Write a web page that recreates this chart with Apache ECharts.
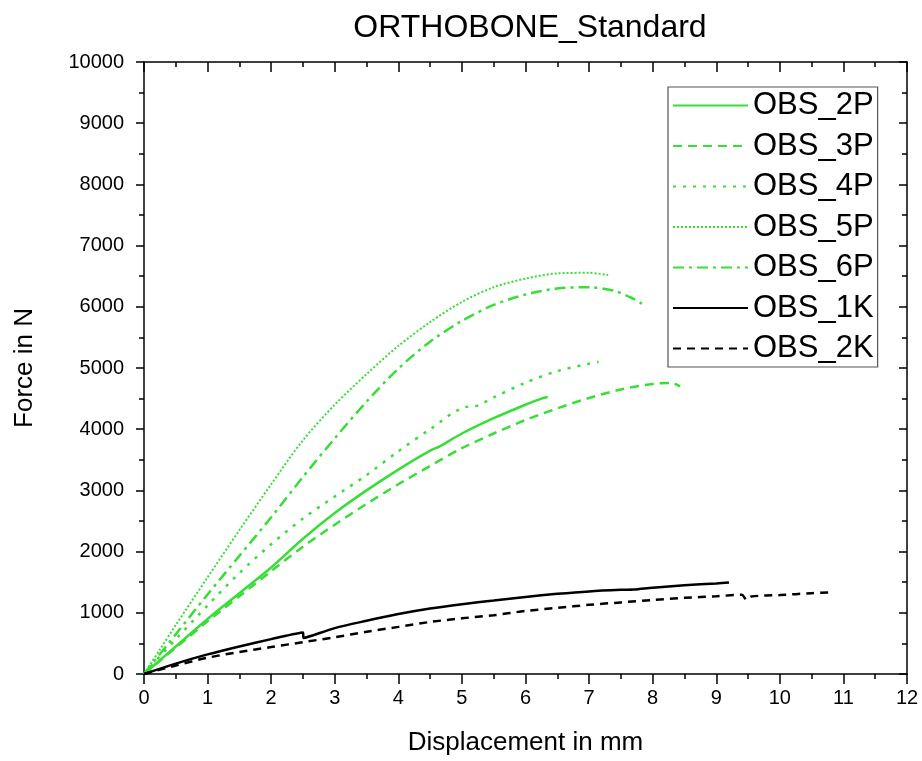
<!DOCTYPE html>
<html>
<head>
<meta charset="utf-8">
<script src="https://cdn.jsdelivr.net/npm/echarts@6/dist/echarts.min.js"></script>
<style>
  html, body { margin: 0; padding: 0; background: #fff; }
  #chart { width: 922px; height: 761px; }
</style>
</head>
<body>
<div id="chart"></div>
<script>
// displacement (mm), force (N) pairs
const obs2P = [[0,0],[0.5,450],[1,900],[1.5,1320],[2,1740],[2.5,2210],[3,2630],[3.5,3000],[4,3340],[4.5,3650],[4.65,3720],[5,3930],[5.5,4180],[6,4400],[6.25,4500],[6.35,4525]]
const obs3P = [[0,0],[0.5,430],[1,860],[1.5,1270],[2,1680],[2.5,2080],[3,2440],[3.5,2780],[4,3100],[4.5,3400],[5,3690],[5.5,3930],[6,4150],[6.5,4340],[7,4510],[7.5,4650],[8,4740],[8.3,4755],[8.43,4700]]
const obs4P = [[0,0],[0.5,570],[1,1120],[1.5,1650],[2,2120],[2.5,2540],[3,2900],[3.5,3250],[4,3640],[4.5,4000],[5.05,4360],[5.2,4370],[5.5,4520],[6,4760],[6.5,4950],[7,5070],[7.15,5100]]
const obs5P = [[0,0],[0.25,400],[0.5,800],[1,1580],[1.5,2350],[2,3100],[2.5,3820],[3,4400],[3.5,4900],[4,5360],[4.5,5750],[5,6080],[5.5,6320],[6,6460],[6.5,6545],[7,6555],[7.3,6520]]
const obs6P = [[0,0],[0.5,650],[1,1300],[1.5,1930],[2,2560],[2.5,3220],[3,3850],[3.5,4450],[4,4990],[4.5,5430],[5,5770],[5.5,6030],[6,6200],[6.5,6300],[7,6320],[7.4,6260],[7.7,6130],[7.83,6050]]
const obs1K = [[0,0],[0.5,170],[1,320],[1.5,450],[2,570],[2.5,680],[2.51,590],[3,750],[3.5,870],[4,980],[4.5,1070],[5,1140],[5.5,1200],[6,1260],[6.5,1310],[7,1350],[7.5,1375],[7.7,1380],[8,1410],[8.5,1450],[9,1480],[9.2,1495]]
const obs2K = [[0,0],[0.5,140],[1,266],[1.5,360],[2,440],[2.5,520],[3,600],[3.5,690],[4,770],[4.5,850],[5,910],[5.5,960],[6,1030],[6.5,1080],[7,1130],[7.5,1170],[8,1210],[8.5,1245],[9,1270],[9.4,1295],[9.48,1210],[9.55,1265],[10,1290],[10.5,1320],[10.76,1333]]

const seriesNames = ['OBS_2P', 'OBS_3P', 'OBS_4P', 'OBS_5P', 'OBS_6P', 'OBS_1K', 'OBS_2K']
const seriesData = [obs2P, obs3P, obs4P, obs5P, obs6P, obs1K, obs2K]

const green = '#38de38'
const styles = [
  {color: green, width: 2.5, type: 'solid'},
  {color: green, width: 2.5, type: [9, 6]},
  {color: green, width: 2.5, type: [3, 7]},
  {color: green, width: 2, type: [2, 2]},
  {color: green, width: 2.5, type: [11, 5, 3, 5]},
  {color: '#000', width: 2.5, type: 'solid'},
  {color: '#000', width: 2.5, type: [8, 6]}
]

const font = 'Arial, "Liberation Sans", sans-serif'
const chart = echarts.init(document.getElementById('chart'))

const baseAxis = {
  type: 'value',
  axisLine: {show: true, onZero: false, lineStyle: {color: '#000', width: 1.5}},
  splitLine: {show: false},
  minorTick: {show: true, splitNumber: 2, length: 5, lineStyle: {color: '#000', width: 1.5}}
}

chart.setOption({
  animation: false,
  backgroundColor: '#fff',
  textStyle: {fontFamily: font},
  title: {
    text: 'ORTHOBONE_Standard',
    left: 525,
    textAlign: 'center',
    top: 7,
    textStyle: {fontFamily: font, fontSize: 32, fontWeight: 'normal', color: '#000'}
  },
  legend: {
    orient: 'vertical',
    left: 668,
    top: 87,
    padding: [3, 4, 3, 4],
    itemWidth: 75,
    itemHeight: 31,
    itemGap: 9.5,
    borderColor: '#555',
    borderWidth: 1.2,
    data: seriesNames,
    itemStyle: {opacity: 0},
    textStyle: {fontFamily: font, fontSize: 31, color: '#000', lineHeight: 31}
  },
  grid: {left: 144, right: 15, top: 62, bottom: 84},
  xAxis: [
    Object.assign({}, baseAxis, {
      position: 'bottom', min: 0, max: 12, interval: 1,
      axisTick: {show: true, length: 10, lineStyle: {color: '#000', width: 1.5}},
      axisLabel: {fontSize: 20, color: '#000', margin: 14, fontFamily: font},
      name: 'Displacement in mm', nameLocation: 'middle', nameGap: 56,
      nameTextStyle: {fontSize: 26, color: '#000', fontFamily: font}
    }),
    Object.assign({}, baseAxis, {
      position: 'top', min: 0, max: 12, interval: 1,
      axisTick: {show: true, inside: true, length: 10, lineStyle: {color: '#000', width: 1.5}},
      axisLabel: {show: false}
    })
  ],
  yAxis: [
    Object.assign({}, baseAxis, {
      position: 'left', min: 0, max: 10000, interval: 1000,
      axisTick: {show: true, length: 8, lineStyle: {color: '#000', width: 1.5}},
      axisLabel: {fontSize: 20, color: '#000', margin: 20, fontFamily: font, formatter: v => String(v)},
      name: 'Force in N', nameLocation: 'middle', nameGap: 106, nameRotate: 90,
      nameTextStyle: {fontSize: 26, color: '#000', fontFamily: font}
    }),
    Object.assign({}, baseAxis, {
      position: 'right', min: 0, max: 10000, interval: 1000,
      axisTick: {show: true, inside: true, length: 8, lineStyle: {color: '#000', width: 1.5}},
      axisLabel: {show: false}
    })
  ],
  series: seriesNames.map((name, i) => ({
    name: name,
    type: 'line',
    xAxisIndex: 0,
    yAxisIndex: 0,
    data: seriesData[i],
    symbol: 'none',
    smooth: 0.3,
    color: styles[i].color,
    lineStyle: {color: styles[i].color, width: styles[i].width, type: styles[i].type}
  }))
})
</script>
</body>
</html>
